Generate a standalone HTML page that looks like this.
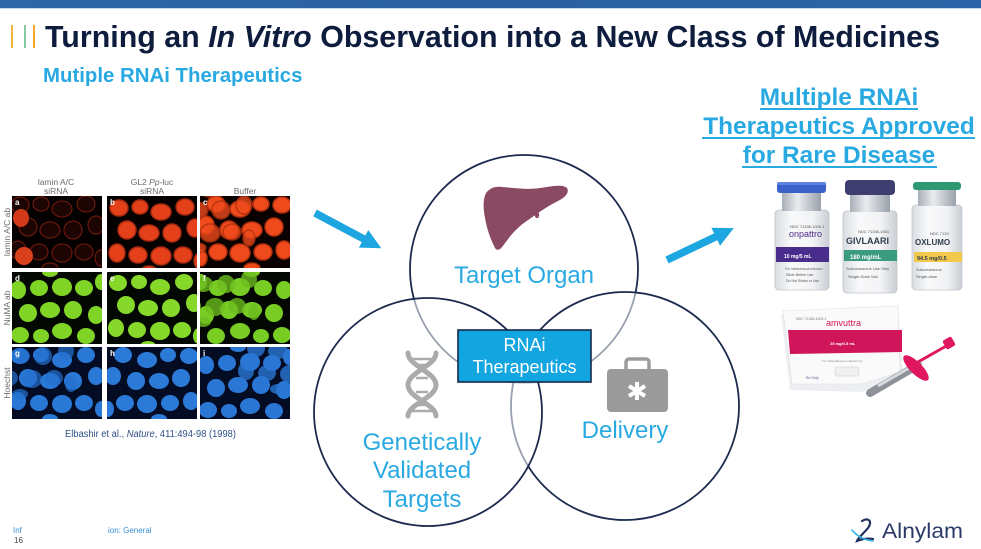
<!DOCTYPE html>
<html><head><meta charset="utf-8">
<style>
html,body{margin:0;padding:0;background:#fff;}
body{width:981px;height:549px;overflow:hidden;position:relative;font-family:"Liberation Sans",sans-serif;}
svg{position:absolute;left:0;top:0;}
</style></head>
<body>
<svg width="981" height="549" viewBox="0 0 981 549" xmlns="http://www.w3.org/2000/svg">
<defs>
  <linearGradient id="bar" x1="0" x2="1" y1="0" y2="0">
    <stop offset="0" stop-color="#2f67a8"/><stop offset="0.5" stop-color="#2a60a0"/><stop offset="1" stop-color="#2b64a6"/>
  </linearGradient>
  <linearGradient id="glass" x1="0" x2="1" y1="0" y2="0">
    <stop offset="0" stop-color="#d9dde2"/><stop offset="0.3" stop-color="#f8f9fa"/><stop offset="0.7" stop-color="#f2f3f5"/><stop offset="1" stop-color="#c9ced4"/>
  </linearGradient>
  <linearGradient id="metal" x1="0" x2="1" y1="0" y2="0">
    <stop offset="0" stop-color="#a9afb7"/><stop offset="0.4" stop-color="#e9ecef"/><stop offset="1" stop-color="#9aa1aa"/>
  </linearGradient>
  <clipPath id="cp"><rect width="90" height="72"/></clipPath>
  <g id="cl">
    <ellipse cx="8" cy="9" rx="9" ry="8"/>
    <ellipse cx="29" cy="8" rx="8" ry="7"/>
    <ellipse cx="50" cy="13" rx="10" ry="8"/>
    <ellipse cx="74" cy="8" rx="9" ry="8"/>
    <ellipse cx="16" cy="31" rx="9" ry="9"/>
    <ellipse cx="38" cy="34" rx="10" ry="8"/>
    <ellipse cx="61" cy="34" rx="9" ry="9"/>
    <ellipse cx="84" cy="29" rx="8" ry="9"/>
    <ellipse cx="6" cy="54" rx="8" ry="9"/>
    <ellipse cx="27" cy="56" rx="9" ry="8"/>
    <ellipse cx="50" cy="57" rx="10" ry="9"/>
    <ellipse cx="72" cy="56" rx="9" ry="8"/>
    <ellipse cx="89" cy="62" rx="6" ry="8"/>
    <ellipse cx="38" cy="72" rx="8" ry="5"/>
  </g>
</defs>

<!-- top bar -->
<rect x="0" y="0" width="981" height="8" fill="url(#bar)"/>
<rect x="0" y="8" width="981" height="1" fill="#c8d8ea"/>

<!-- title -->
<rect x="11" y="25" width="2" height="23" fill="#f0b53e"/>
<rect x="24" y="25" width="2" height="23" fill="#86cba6"/>
<rect x="33" y="25" width="2" height="23" fill="#f5a72a"/>
<text x="45" y="47" font-family="Liberation Sans, sans-serif" font-size="30.4" font-weight="bold" fill="#0e1c3d">Turning an <tspan font-style="italic">In Vitro</tspan> Observation into a New Class of Medicines</text>
<text x="43" y="82" font-family="Liberation Sans, sans-serif" font-size="20.4" font-weight="bold" fill="#29a9e1">Mutiple RNAi Therapeutics</text>

<!-- right heading -->
<g font-family="Liberation Sans, sans-serif" font-size="24.4" font-weight="bold" fill="#29a9e1" text-anchor="middle">
  <text x="839" y="105">Multiple RNAi</text>
  <text x="839" y="134">Therapeutics Approved</text>
  <text x="839" y="163">for Rare Disease</text>
</g>
<rect x="760" y="108" width="158" height="2" fill="#29a9e1"/>
<rect x="702" y="137" width="273" height="2" fill="#29a9e1"/>
<rect x="742" y="166" width="195" height="2" fill="#29a9e1"/>

<!-- microscopy labels -->
<g font-family="Liberation Sans, sans-serif" font-size="8.5" fill="#6b6b6b" text-anchor="middle">
  <text x="56" y="185">lamin A/C</text>
  <text x="56" y="194">siRNA</text>
  <text x="152" y="185">GL2 <tspan font-style="italic">Pp</tspan>-luc</text>
  <text x="152" y="194">siRNA</text>
  <text x="245" y="194">Buffer</text>
  <text transform="translate(10,232) rotate(-90)">lamin A/C ab</text>
  <text transform="translate(10,308) rotate(-90)">NuMA ab</text>
  <text transform="translate(10,383) rotate(-90)">Hoechst</text>
</g>

<!-- panels row 1 red -->
<g transform="translate(12,196)" clip-path="url(#cp)">
  <rect width="90" height="72" fill="#050101"/>
  <use href="#cl" fill="#1c0502" stroke="#7a1c0e" stroke-width="1"/>
  <ellipse cx="9" cy="22" rx="8" ry="9" fill="#d23a1a"/>
  <ellipse cx="12" cy="60" rx="9" ry="9" fill="#d8401c"/>
</g>
<g transform="translate(107,196)" clip-path="url(#cp)">
  <rect width="90" height="72" fill="#050101"/>
  <use href="#cl" transform="translate(4,3)" fill="#e4401a" stroke="#a82a10" stroke-width="1.5"/>
</g>
<g transform="translate(200,196)" clip-path="url(#cp)">
  <rect width="90" height="72" fill="#0a0201"/>
  <use href="#cl" transform="translate(90,0) scale(-1,1)" fill="#ee4a1c" stroke="#b0300e" stroke-width="1.5"/>
  <use href="#cl" transform="translate(-40,-20)" fill="#ee4a1c" stroke="#b0300e" stroke-width="1.5" opacity="0.8"/>
</g>
<!-- row 2 green -->
<g transform="translate(12,272)" clip-path="url(#cp)">
  <rect width="90" height="72" fill="#030802"/>
  <use href="#cl" transform="translate(0,72) scale(1,-1)" fill="#80d426"/>
</g>
<g transform="translate(107,272)" clip-path="url(#cp)">
  <rect width="90" height="72" fill="#030802"/>
  <use href="#cl" transform="translate(3,2)" fill="#86d82a"/>
</g>
<g transform="translate(200,272)" clip-path="url(#cp)">
  <rect width="90" height="72" fill="#030802"/>
  <use href="#cl" transform="translate(90,72) scale(-1,-1)" fill="#78cc24"/>
  <use href="#cl" transform="translate(-35,-22)" fill="#6cbc1e" opacity="0.8"/>
</g>
<!-- row 3 blue -->
<g transform="translate(12,347)" clip-path="url(#cp)">
  <rect width="90" height="72" fill="#040c24"/>
  <use href="#cl" fill="#2a78d6"/>
  <use href="#cl" transform="translate(-30,-25)" fill="#2470d0" opacity="0.7"/>
</g>
<g transform="translate(107,347)" clip-path="url(#cp)">
  <rect width="90" height="72" fill="#040c24"/>
  <use href="#cl" transform="translate(90,0) scale(-1,1)" fill="#2c7ad8"/>
</g>
<g transform="translate(200,347)" clip-path="url(#cp)">
  <rect width="90" height="72" fill="#040c24"/>
  <use href="#cl" transform="translate(0,72) scale(1,-1)" fill="#2a76d4"/>
  <use href="#cl" transform="translate(40,-30)" fill="#2a76d4" opacity="0.8"/>
</g>
<g font-family="Liberation Sans, sans-serif" font-size="8" font-weight="bold" fill="#fff">
  <text x="15" y="205">a</text><text x="110" y="205">b</text><text x="203" y="205">c</text>
  <text x="15" y="281">d</text><text x="110" y="281">e</text><text x="203" y="281">f</text>
  <text x="15" y="356">g</text><text x="110" y="356">h</text><text x="203" y="356">i</text>
</g>
<text x="65" y="437" font-family="Liberation Sans, sans-serif" font-size="10" fill="#2f4f85" textLength="171" lengthAdjust="spacingAndGlyphs">Elbashir et al., <tspan font-style="italic">Nature</tspan>, 411:494-98 (1998)</text>

<!-- arrows -->
<g transform="translate(315,213) rotate(28)" fill="#1ea6e0">
  <rect x="0" y="-3.8" width="60" height="7.6"/>
  <polygon points="55,-10 75,0 55,10"/>
</g>
<g transform="translate(667,260) rotate(-25.5)" fill="#1ea6e0">
  <rect x="0" y="-3.8" width="58" height="7.6"/>
  <polygon points="54,-10 74,0 54,10"/>
</g>

<!-- venn -->
<circle cx="524" cy="269" r="114" fill="rgba(255,255,255,0.55)" stroke="#1b2a4e" stroke-width="1.8"/>
<circle cx="625" cy="406" r="114" fill="rgba(255,255,255,0.55)" stroke="#1b2a4e" stroke-width="1.8"/>
<circle cx="428" cy="412" r="114" fill="rgba(255,255,255,0.55)" stroke="#1b2a4e" stroke-width="1.8"/>

<!-- liver -->
<path d="M486,193 C490,188 495,186 502,187 C515,188 528,190 540,188 C552,186 563,184 567,188 C570,193 564,198 558,201 C550,205 544,209 538,213 C530,219 523,223 518,228 C511,234 507,241 502,247 C500,250 497,251 495,248 C491,240 487,230 485,218 C483,208 483,199 486,193 Z" fill="#8b4a64"/>
<ellipse cx="537" cy="215" rx="2.2" ry="3.2" fill="#8b4a64"/>

<!-- DNA -->
<g stroke="#ababab" stroke-width="5" fill="none" stroke-linecap="round">
  <path d="M408,353 C408,366 436,372 436,385 C436,398 408,404 408,416"/>
  <path d="M436,353 C436,366 408,372 408,385 C408,398 436,404 436,416"/>
</g>
<g stroke="#ababab" stroke-width="2.5">
  <line x1="411" y1="359" x2="433" y2="359"/>
  <line x1="416" y1="365" x2="428" y2="365"/>
  <line x1="416" y1="378" x2="428" y2="378"/>
  <line x1="416" y1="392" x2="428" y2="392"/>
  <line x1="416" y1="405" x2="428" y2="405"/>
  <line x1="411" y1="411" x2="433" y2="411"/>
</g>

<!-- medical case -->
<rect x="626" y="359" width="23" height="13" rx="3" fill="none" stroke="#9b9b9b" stroke-width="3.5"/>
<rect x="607" y="369" width="61" height="43" rx="4" fill="#9b9b9b"/>
<g stroke="#fff" stroke-width="4" stroke-linecap="butt">
  <line x1="637" y1="382" x2="637" y2="400"/>
  <line x1="629" y1="386" x2="645" y2="396"/>
  <line x1="629" y1="396" x2="645" y2="386"/>
</g>

<!-- venn labels -->
<g font-family="Liberation Sans, sans-serif" font-size="24" fill="#29a9e1" text-anchor="middle">
  <text x="524" y="283">Target Organ</text>
  <text x="422" y="450">Genetically</text>
  <text x="422" y="478">Validated</text>
  <text x="422" y="507">Targets</text>
  <text x="625" y="438">Delivery</text>
</g>

<!-- RNAi box -->
<rect x="458" y="330" width="133" height="52" fill="#12a5e0" stroke="#17284a" stroke-width="1.6"/>
<g font-family="Liberation Sans, sans-serif" font-size="18" fill="#fff" text-anchor="middle">
  <text x="524.5" y="351">RNAi</text>
  <text x="524.5" y="373">Therapeutics</text>
</g>

<!-- vial 1 -->
<rect x="775" y="210" width="54" height="80" rx="4" fill="url(#glass)" stroke="#c0c5cc" stroke-width="0.8"/>
<rect x="782" y="192" width="39" height="19" fill="url(#metal)"/>
<rect x="777" y="182" width="49" height="11" rx="3" fill="#3a62c8"/>
<rect x="777" y="182" width="49" height="3" rx="2" fill="#5d85e0"/>
<rect x="776" y="247" width="53" height="15" fill="#4a2c8c"/>
<g font-family="Liberation Sans, sans-serif">
  <text x="790" y="228" font-size="4" fill="#555">NDC 71336-1000-1</text>
  <text x="789" y="237" font-size="9" fill="#4a2c8c">onpattro</text>
  <text x="784" y="258" font-size="5" fill="#fff" font-weight="bold">10 mg/5 mL</text>
  <text x="785" y="270" font-size="3.5" fill="#555">For intravenous Infusion</text>
  <text x="786" y="276" font-size="3.5" fill="#555">Dilute Before Use</text>
  <text x="786" y="282" font-size="3.5" fill="#555">Do Not Shake or Use</text>
</g>
<!-- vial 2 -->
<rect x="843" y="211" width="54" height="82" rx="4" fill="url(#glass)" stroke="#c0c5cc" stroke-width="0.8"/>
<rect x="850" y="194" width="40" height="18" fill="url(#metal)"/>
<rect x="845" y="180" width="50" height="15" rx="4" fill="#3e3f70"/>
<rect x="844" y="250" width="53" height="11" fill="#3b9b7f"/>
<g font-family="Liberation Sans, sans-serif">
  <text x="858" y="233" font-size="4" fill="#555">NDC 71336-1001</text>
  <text x="846" y="244" font-size="9" fill="#2f3d4a" font-weight="bold">GIVLAARI</text>
  <text x="850" y="259" font-size="6" fill="#fff" font-weight="bold">180 mg/mL</text>
  <text x="846" y="270" font-size="4" fill="#555">Subcutaneous Use Only</text>
  <text x="848" y="278" font-size="4" fill="#555">Single-Dose Vial</text>
</g>
<!-- vial 3 -->
<rect x="912" y="205" width="50" height="85" rx="4" fill="url(#glass)" stroke="#c0c5cc" stroke-width="0.8"/>
<rect x="918" y="189" width="38" height="17" fill="url(#metal)"/>
<rect x="913" y="182" width="48" height="8" rx="3" fill="#2f9a72"/>
<rect x="914" y="252" width="48" height="10" fill="#f2c94c"/>
<g font-family="Liberation Sans, sans-serif">
  <text x="930" y="235" font-size="4" fill="#555">NDC 7133</text>
  <text x="915" y="245" font-size="8" fill="#2f3d4a" font-weight="bold">OXLUMO</text>
  <text x="917" y="260" font-size="5.5" fill="#2f3d4a" font-weight="bold">94.5 mg/0.5</text>
  <text x="916" y="271" font-size="4" fill="#555">Subcutaneous</text>
  <text x="916" y="278" font-size="4" fill="#555">Single-dose</text>
</g>

<!-- amvuttra box -->
<polygon points="781,314 898,306 903,376 862,392 790,390" fill="#eceef1"/>
<polygon points="783,311 898,306 900,372 862,384 792,384" fill="#fafafb" stroke="#dfe1e5" stroke-width="0.6"/>
<polygon points="788,330 902,330 902,352 790,354" fill="#d0155a"/>
<g font-family="Liberation Sans, sans-serif">
  <text x="796" y="320" font-size="3.5" fill="#777">NDC 71336-1003-1</text>
  <text x="826" y="326" font-size="9" fill="#d0155a">amvuttra</text>
  <text x="830" y="345" font-size="4" fill="#fff" font-weight="bold">25 mg/0.5 mL</text>
  <text x="822" y="362" font-size="3" fill="#888">For Subcutaneous Injection by</text>
  <text x="806" y="379" font-size="3.5" fill="#4a5a8a">Rx Only</text>
</g>
<rect x="835" y="367" width="24" height="9" rx="2" fill="#f0f0f2" stroke="#ccc" stroke-width="0.5"/>
<!-- syringe -->
<g>
  <line x1="870" y1="393" x2="918" y2="365" stroke="#8d9299" stroke-width="8" stroke-linecap="round"/>
  <line x1="878" y1="386" x2="914" y2="365" stroke="#d6d9de" stroke-width="3"/>
  <line x1="918" y1="362" x2="948" y2="345" stroke="#e0165e" stroke-width="3"/>
  <ellipse cx="916" cy="368" rx="6" ry="17" transform="rotate(-45 916 368)" fill="#e0165e"/>
  <rect x="944" y="338" width="10" height="10" rx="2" transform="rotate(-30 949 343)" fill="#e0165e"/>
</g>

<!-- footer -->
<g font-family="Liberation Sans, sans-serif" font-size="8">
  <text x="13" y="533" fill="#3a8fd6">Inf</text>
  <text x="108" y="533" fill="#3a8fd6">ion: General</text>
  <text x="14" y="543" fill="#444">16</text>
</g>

<!-- Alnylam logo -->
<path d="M862,521 C868,517 873,521 868,528 C864,533 858,538 857,541 C862,539 868,538 873,539" fill="none" stroke="#1f2f5e" stroke-width="2.2" stroke-linecap="round"/>
<path d="M852,530 C857,536 864,540 873,541" fill="none" stroke="#2db5e6" stroke-width="1.6" stroke-linecap="round"/>
<text x="882" y="538" font-family="Liberation Sans, sans-serif" font-size="21" fill="#2b3a67" textLength="81" lengthAdjust="spacingAndGlyphs">Alnylam</text>
</svg>
</body></html>
